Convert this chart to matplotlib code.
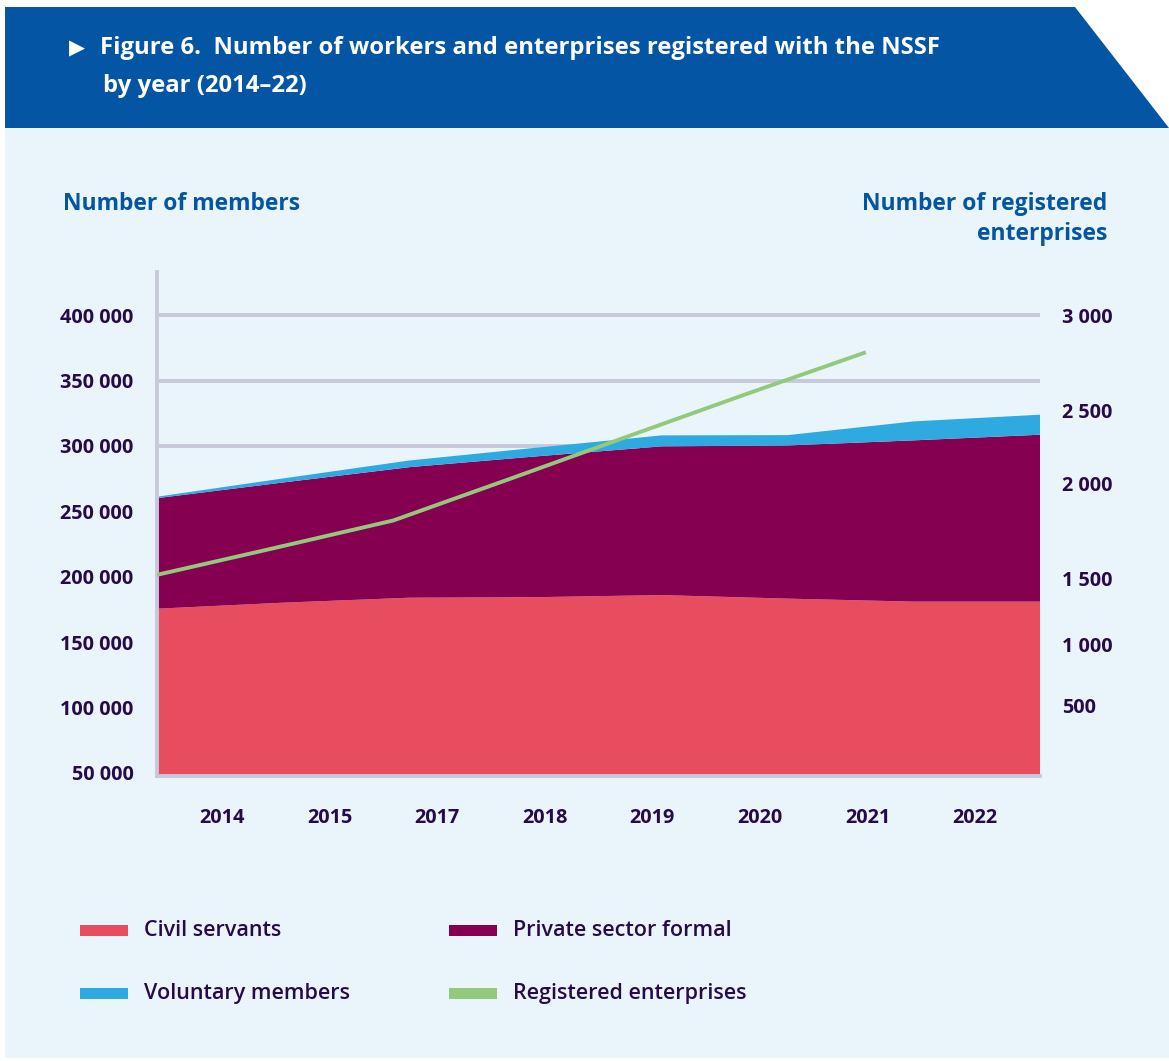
import numpy as np
import matplotlib
matplotlib.use("Agg")
import matplotlib.pyplot as plt
from matplotlib.patches import Polygon, Rectangle
from matplotlib.scale import FuncScale

plt.rcParams['font.family'] = ['Open Sans', 'DejaVu Sans']

# members by year (stacked areas)
years = ['2014', '2015', '2017', '2018', '2019', '2020', '2021', '2022']
civil_servants = [175600, 180200, 184000, 184400, 186000, 183300, 181000, 181000]
private_formal = [84500, 91900, 99800, 107600, 113700, 117100, 123300, 127600]
voluntary = [1100, 3100, 5100, 6600, 8400, 7900, 14500, 15300]

# registered enterprises (right axis)
enterprises = [1521, 1662, 1805, 2033, 2325, 2588, 2805]

member_ticks = [50000, 100000, 150000, 200000, 250000, 300000, 350000, 400000]
enterprise_ticks = [500, 1000, 1500, 2000, 2500, 3000]

# right axis is drawn on an uneven scale: enterprise value -> members-axis height
ent_anchor = [-500, 0, 500, 1000, 1500, 2000, 2500, 3000, 3500]
mem_anchor = [7900, 54600, 101300, 148000, 198400, 271600, 327300, 400000, 472700]

C_CIVIL = '#e84d5f'
C_PRIV = '#850050'
C_VOL = '#2eaae1'
C_ENT = '#93c97b'
C_GRID = '#c5c9db'
C_TEXT = '#260a4a'
C_BLUE = '#0455a4'
C_PANEL = '#eaf5fb'

W, H = 1169, 1061
fig = plt.figure(figsize=(W / 100, H / 100), dpi=100, facecolor='white')

# background: header band + light panel, in pixel coordinates
bg = fig.add_axes([0, 0, 1, 1], zorder=-5)
bg.set_xlim(0, W)
bg.set_ylim(H, 0)
bg.axis('off')
bg.add_patch(Rectangle((5, 128), W - 5, 930, color=C_PANEL, lw=0))
bg.add_patch(Polygon([(5, 7), (1075, 7), (W, 128), (5, 128)], closed=True, color=C_BLUE, lw=0))
bg.text(69, 48, '\u25B6', color='white', fontsize=15, va='center', ha='left', family=['DejaVu Sans'])
bg.text(100, 48, 'Figure 6.  Number of workers and enterprises registered with the NSSF',
        color='white', fontsize=17.2, fontweight='bold', va='center', ha='left')
bg.text(103, 86, 'by year (2014\u201322)', color='white', fontsize=17.2, fontweight='bold',
        va='center', ha='left')
bg.text(63, 204, 'Number of members', color=C_BLUE, fontsize=16.5, fontweight='bold',
        va='center', ha='left')
bg.text(1107, 219, 'Number of registered\nenterprises', color=C_BLUE, fontsize=16.5,
        fontweight='bold', va='center', ha='right', linespacing=1.3)

# legend, drawn by hand in two columns
legend_items = [('Civil servants', C_CIVIL), ('Private sector formal', C_PRIV),
                ('Voluntary members', C_VOL), ('Registered enterprises', C_ENT)]
for k, (name, col) in enumerate(legend_items):
    x0 = 80 if k % 2 == 0 else 449
    y0 = 930 if k < 2 else 993
    bg.add_patch(Rectangle((x0, y0 - 5), 48, 11, color=col, lw=0))
    bg.text(x0 + 64, y0 + 1, name, color=C_TEXT, fontsize=15.5, fontweight='semibold',
            va='center', ha='left')

# main chart axes
left, right, top, bottom = 157, 1040, 272, 776
ax = fig.add_axes([left / W, 1 - bottom / H, (right - left) / W, (bottom - top) / H])
ax.patch.set_visible(False)

x = np.arange(len(years))
ax.stackplot(x, civil_servants, private_formal, voluntary,
             colors=[C_CIVIL, C_PRIV, C_VOL], lw=0, zorder=2)
ax.set_xlim(0, len(years) - 1)
ax.set_ylim(47700, 433000)

ax.set_yticks(member_ticks)
ax.set_yticklabels([f'{v:,}'.replace(',', ' ') for v in member_ticks])
ax.set_xticks(np.linspace(0.515, 6.486, len(years)))
ax.set_xticklabels(years)
ax.grid(axis='y', color=C_GRID, lw=2.8, zorder=1)
ax.set_axisbelow(True)
ax.tick_params(length=0, colors=C_TEXT, labelsize=14.3)
ax.tick_params(axis='y', pad=17)
ax.tick_params(axis='x', pad=23)
for lab in ax.get_xticklabels() + ax.get_yticklabels():
    lab.set_fontweight('bold')
for s in ['top', 'right']:
    ax.spines[s].set_visible(False)
for s in ['left', 'bottom']:
    ax.spines[s].set_color(C_GRID)
    ax.spines[s].set_linewidth(2.8)
    ax.spines[s].set_zorder(3)

# right axis for registered enterprises
ax2 = ax.twinx()
fwd = lambda v: np.interp(v, ent_anchor, mem_anchor)
inv = lambda v: np.interp(v, mem_anchor, ent_anchor)
ax2.set_yscale(FuncScale(ax2, (fwd, inv)))
ax2.set_ylim(inv(47700), inv(433000))
xe = np.linspace(0, 5.62, len(enterprises))
ax2.plot(xe, enterprises, color=C_ENT, lw=2.8, solid_capstyle='butt', zorder=4)
ax2.set_yticks(enterprise_ticks)
ax2.set_yticklabels([f'{v:,}'.replace(',', ' ') for v in enterprise_ticks])
ax2.yaxis.set_minor_locator(matplotlib.ticker.NullLocator())
ax2.tick_params(length=0, colors=C_TEXT, labelsize=14.3, pad=16)
for lab in ax2.get_yticklabels():
    lab.set_fontweight('bold')
for s in ax2.spines.values():
    s.set_visible(False)

fig.savefig('out.png', dpi=100, facecolor='white')
